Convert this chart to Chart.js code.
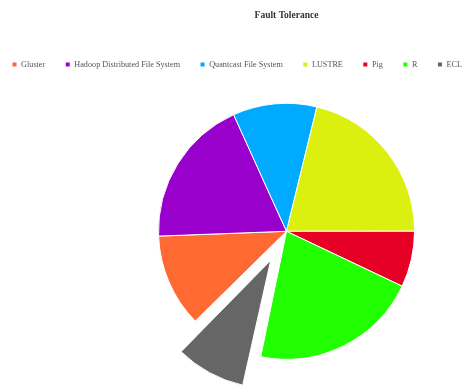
<!DOCTYPE html>
<html lang="en">
<head>
    <meta charset="UTF-8">
    <title>Fault Tolerance</title>
    <script src="https://cdn.jsdelivr.net/npm/chart.js"></script>
    <style>
        html, body {
            margin: 0;
            padding: 0;
            background: #fff;
            overflow: hidden;
        }
        #wrap {
            position: absolute;
            left: -8px;
            top: 0;
            width: 589px;
            height: 386px;
        }
    </style>
</head>
<body>

<div id="wrap">
    <canvas id="myChart"></canvas>
</div>

<script>
    // ratings per system
    const labels = ['Gluster', 'Hadoop Distributed File System', 'Quantcast File System', 'LUSTRE', 'Pig', 'R', 'ECL'];
    const ratings = [5, 8, 4.5, 9, 3, 9, 4];
    const colors = ['#FF6A33', '#9900CC', '#00AAFF', '#DCF00F', '#E60026', '#22FF00', '#666666'];
    // ECL is pulled out of the pie (arc offset is scaled down by 4 when drawn)
    const pulled = [0, 0, 0, 0, 0, 0, 132];

    const serif = "'Liberation Serif', 'Times New Roman', serif";

    // Chart.js grows the radius of an offset arc; shrink it back while drawing
    // so the pulled slice keeps the same radius as the rest of the pie.
    const keepRadius = {
        id: 'keepRadius',
        beforeDatasetsDraw(chart) {
            chart.getDatasetMeta(0).data.forEach(arc => {
                const off = (arc.options.offset || 0) / 4;
                arc._r = arc.outerRadius;
                if (off) {
                    const fix = 1 - Math.sin(Math.min(Math.PI, arc.circumference));
                    arc.outerRadius = arc._r - off * fix;
                }
            });
        },
        afterDatasetsDraw(chart) {
            chart.getDatasetMeta(0).data.forEach(arc => {
                arc.outerRadius = arc._r;
            });
        }
    };

    const ctx = document.getElementById('myChart').getContext('2d');
    let chart = new Chart(ctx, {
        type: 'pie',
        data: {
            labels: labels,
            datasets: [{
                data: ratings,
                backgroundColor: colors,
                borderColor: '#ffffff',
                borderWidth: 1,
                offset: pulled
            }]
        },
        options: {
            responsive: true,
            maintainAspectRatio: false,
            animation: false,
            rotation: 225.5,
            radius: 128,
            layout: {
                padding: { bottom: 2 }
            },
            plugins: {
                title: {
                    display: true,
                    text: 'Fault Tolerance',
                    color: '#333',
                    font: { family: serif, size: 9.5, weight: 'bold' },
                    padding: { top: 10, bottom: 19 }
                },
                legend: {
                    position: 'top',
                    align: 'start',
                    labels: {
                        boxWidth: 5,
                        boxHeight: 5,
                        padding: 20,
                        color: '#555',
                        font: { family: serif, size: 8.2 }
                    }
                },
                tooltip: { enabled: false }
            }
        },
        plugins: [keepRadius]
    });
</script>

</body>
</html>
